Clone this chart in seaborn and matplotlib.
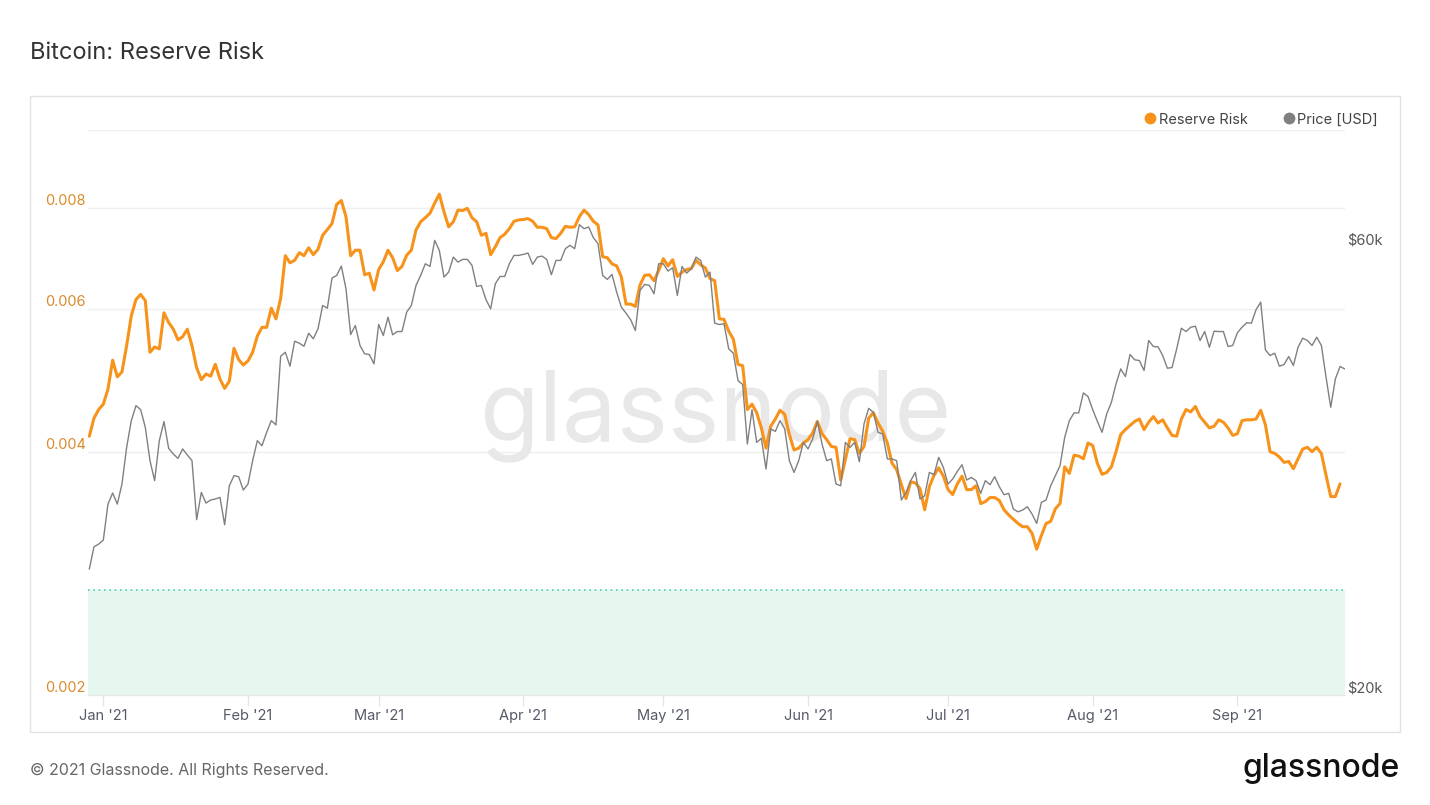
import numpy as np
import pandas as pd
import matplotlib
matplotlib.use("Agg")
import matplotlib.pyplot as plt
import matplotlib.dates as mdates
from matplotlib.ticker import NullLocator
from matplotlib.patches import Rectangle
from matplotlib.lines import Line2D
import seaborn as sns

# daily values, first day is 2020-12-29
reserve_risk = [
    0.00418, 0.00440, 0.00451, 0.00458, 0.00478, 0.00519, 0.00495, 0.00502, 0.00541, 0.00589,
    0.00617, 0.00626, 0.00615, 0.00531, 0.00539, 0.00536, 0.00594, 0.00578, 0.00567, 0.00550,
    0.00555, 0.00567, 0.00541, 0.00508, 0.00491, 0.00499, 0.00496, 0.00513, 0.00492, 0.00479,
    0.00489, 0.00537, 0.00520, 0.00512, 0.00518,
    0.00531, 0.00556, 0.00570, 0.00570, 0.00602, 0.00584, 0.00619, 0.00699, 0.00685, 0.00690,
    0.00705, 0.00699, 0.00715, 0.00701, 0.00712, 0.00741, 0.00753, 0.00766, 0.00809, 0.00818,
    0.00781, 0.00699, 0.00710, 0.00710, 0.00662, 0.00665, 0.00634, 0.00672, 0.00687, 0.00710,
    0.00695, 0.00670, 0.00678, 0.00700, 0.00710,
    0.00752, 0.00770, 0.00779, 0.00789, 0.00812, 0.00833, 0.00792, 0.00759, 0.00770, 0.00796,
    0.00795, 0.00800, 0.00779, 0.00770, 0.00741, 0.00745, 0.00701, 0.00717, 0.00736, 0.00743,
    0.00755, 0.00771, 0.00774, 0.00775, 0.00777, 0.00771, 0.00758, 0.00758, 0.00755, 0.00736,
    0.00734, 0.00745, 0.00760, 0.00758,
    0.00759, 0.00781, 0.00796, 0.00786, 0.00771, 0.00763, 0.00697, 0.00695, 0.00683, 0.00679,
    0.00658, 0.00609, 0.00609, 0.00605, 0.00643, 0.00661, 0.00662, 0.00651, 0.00670, 0.00693,
    0.00679, 0.00691, 0.00659, 0.00667, 0.00672, 0.00674, 0.00690, 0.00681, 0.00675, 0.00655,
    0.00651, 0.00584, 0.00583, 0.00564,
    0.00551, 0.00513, 0.00511, 0.00451, 0.00458, 0.00447, 0.00428, 0.00404, 0.00430, 0.00439,
    0.00450, 0.00445, 0.00420, 0.00402, 0.00404, 0.00410, 0.00414, 0.00422, 0.00436, 0.00421,
    0.00414, 0.00406, 0.00405, 0.00369, 0.00391, 0.00415, 0.00414, 0.00398, 0.00406, 0.00440,
    0.00447, 0.00434, 0.00424, 0.00410,
    0.00387, 0.00380, 0.00364, 0.00350, 0.00367, 0.00366, 0.00360, 0.00339, 0.00362, 0.00374,
    0.00382, 0.00373, 0.00359, 0.00354, 0.00365, 0.00373, 0.00359, 0.00359, 0.00363, 0.00345,
    0.00347, 0.00351, 0.00351, 0.00348, 0.00339, 0.00334, 0.00330, 0.00326, 0.00323, 0.00323,
    0.00317, 0.00303, 0.00315, 0.00326,
    0.00328, 0.00340, 0.00345, 0.00383, 0.00376, 0.00396, 0.00395, 0.00392, 0.00410, 0.00407,
    0.00387, 0.00375, 0.00377, 0.00383, 0.00400, 0.00420, 0.00426, 0.00431, 0.00436, 0.00439,
    0.00426, 0.00435, 0.00442, 0.00434, 0.00438, 0.00428, 0.00419, 0.00418, 0.00439, 0.00451,
    0.00448, 0.00455, 0.00442, 0.00435,
    0.00428, 0.00430, 0.00438, 0.00435, 0.00428, 0.00419, 0.00421, 0.00437, 0.00438, 0.00438,
    0.00439, 0.00450, 0.00432, 0.00400, 0.00398, 0.00394, 0.00388, 0.00389, 0.00381, 0.00392,
    0.00403, 0.00405, 0.00400, 0.00405, 0.00398, 0.00374, 0.00352, 0.00352, 0.00365,
]

price_usd = [
    27240, 28770, 28960, 29250, 31950, 32830, 31950, 33560, 36720, 39210,
    40680, 40280, 38570, 35540, 33840, 37330, 39120, 36630, 36130, 35740,
    36580, 36040, 35540, 30750, 32880, 32030, 32270, 32350, 32480, 30370,
    33420, 34260, 34170, 33070, 33560,
    35540, 37330, 36870, 38100, 39210, 38800, 45920, 46370, 44810, 47650,
    47410, 47060, 48590, 47930, 49120, 52010, 51670, 55620, 55990, 57290,
    54190, 48440, 49520, 47150, 46190, 46120, 45070, 49640, 48320, 50540,
    48400, 48790, 48790, 51160, 52010,
    54630, 55990, 57620, 57240, 61020, 59540, 55760, 56450, 58570, 57850,
    58240, 58240, 57390, 54500, 54630, 52750, 51590, 54860, 55850, 55850,
    57620, 58810, 58810, 58960, 59150, 57530, 58570, 58710, 58240, 56090,
    58090, 58090, 59790, 60280,
    59790, 63420, 62800, 63050, 61430, 60530, 55990, 55450, 56130, 53740,
    51800, 51040, 50220, 48910, 53970, 54770, 54630, 53530, 57620, 57620,
    56590, 57060, 53310, 57240, 56310, 56920, 58570, 58090, 55760, 56450,
    49800, 49640, 49730, 46770,
    46260, 43260, 42840, 37030, 40280, 37170, 37540, 34820, 38420, 38190,
    39210, 38420, 35540, 34530, 35540, 37170, 36580, 37490, 39140, 37030,
    35540, 35690, 33560, 33420, 37170, 36720, 37170, 35450, 38890, 40410,
    40020, 38100, 37950, 35690,
    35690, 35540, 32270, 32880, 33840, 34530, 32350, 32610, 34530, 34340,
    35830, 34960, 33560, 33980, 34620, 35190, 33890, 34110, 33840, 32800,
    33840, 33510, 34170, 33340, 32690, 32800, 31560, 31350, 31490, 31740,
    31180, 30470, 32080, 32270,
    33420, 34260, 35110, 37630, 39210, 39960, 39960, 41970, 41590, 40280,
    39140, 38100, 39860, 41010, 42910, 44520, 43690, 46120, 45520, 45440,
    44340, 47730, 47030, 47000, 46000, 44590, 44670, 46770, 49190, 48790,
    49310, 49430, 47730, 48790,
    46940, 48830, 48790, 48790, 47030, 47150, 48640, 49310, 49850, 49800,
    51470, 52440, 46650, 46000, 46260, 44810, 45000, 45890, 44890, 46940,
    48000, 47730, 47150, 48120, 47150, 43610, 40510, 43440, 44780, 44520,
]

first_day = "2020-12-29"
rr_ticks = [0.002, 0.004, 0.006, 0.008, 0.01]
rr_labels = ["0.002", "0.004", "0.006", "0.008", ""]
price_ticks = [20000, 60000]
price_labels = ["$20k", "$60k"]
buy_zone = 0.0027

rr = pd.DataFrame({"date": pd.date_range(first_day, periods=len(reserve_risk), freq="D"),
                   "value": reserve_risk})
px = pd.DataFrame({"date": pd.date_range(first_day, periods=len(price_usd), freq="D"),
                   "value": price_usd})

sns.set_style("white")
plt.rcParams["font.family"] = ["Inter", "DejaVu Sans"]

W, H = 1430, 805
fig = plt.figure(figsize=(W / 100, H / 100), dpi=100)
ax = fig.add_axes([88 / W, 1 - 695 / H, (1345 - 88) / W, (695 - 130) / H])
ax2 = ax.twinx()

orange = "#f7931a"
grey = "#808080"

# buy zone
ax.axhspan(0.002, buy_zone, color="#e6f7ef", lw=0, zorder=0.5)
ax.axhline(buy_zone, color="#3fd69a", lw=1.2, ls=(0, (1, 2.2)), zorder=0.6)

sns.lineplot(data=rr, x="date", y="value", ax=ax, color=orange, lw=2.2, legend=False, zorder=3)
sns.lineplot(data=px, x="date", y="value", ax=ax2, color=grey, lw=1.0, legend=False, zorder=3)

ax.set_yscale("log")
ax2.set_yscale("log")
ax.set_ylim(0.002, 0.01)
ax2.set_ylim(20000, 80000)
x0 = pd.Timestamp("2021-01-01")
ax.set_xlim(x0 - pd.Timedelta(hours=3.28 * 24), x0 + pd.Timedelta(hours=266.06 * 24))

ax.yaxis.set_minor_locator(NullLocator())
ax2.yaxis.set_minor_locator(NullLocator())
ax.set_yticks(rr_ticks, rr_labels, va="bottom")
ax2.set_yticks(price_ticks, price_labels, va="bottom")

ax.xaxis.set_major_locator(mdates.MonthLocator())
ax.xaxis.set_major_formatter(mdates.DateFormatter("%b '%y"))

ax.set_xlabel("")
ax.set_ylabel("")
ax2.set_ylabel("")

ax.grid(axis="y", color="#efefef", lw=1)
ax.grid(axis="x", visible=False)
ax2.grid(False)

ax.tick_params(axis="y", length=0, pad=1.5, labelsize=10.5, labelcolor="#d98b2b")
ax2.tick_params(axis="y", length=0, pad=1.5, labelsize=10.5, labelcolor="#555555")
ax.tick_params(axis="x", length=8, width=1, color="#e6e6e6", pad=2, labelsize=10.5,
               labelcolor="#555a66", bottom=True)

for a in (ax, ax2):
    for s in ("top", "left", "right"):
        a.spines[s].set_visible(False)
    a.spines["bottom"].set_color("#e8e8e8")

# watermark
ax.text(0.4988, 0.495, "glassnode", transform=ax.transAxes, ha="center", va="center",
        fontsize=70, color="#e8e8e8", zorder=1)

# legend
handles = [Line2D([], [], marker="o", ls="", color=orange, markersize=7.5),
           Line2D([], [], marker="o", ls="", color=grey, markersize=7.5)]
fig.legend(handles, ["Reserve Risk", "Price [USD]"], loc="center right",
           bbox_to_anchor=(1378 / W, 1 - 119.5 / H), ncol=2, frameon=False,
           handletextpad=0.1, columnspacing=2.3, fontsize=10.5, labelcolor="#444444",
           handlelength=1.0, borderaxespad=0, borderpad=0)

# outer frame
fig.patches.append(Rectangle((30 / W, 1 - 732 / H), (1400 - 30) / W, (732 - 96) / H,
                             transform=fig.transFigure, fill=False, ec="#e2e2e2", lw=1))

fig.text(30 / W, 1 - 53 / H, "Bitcoin: Reserve Risk", fontsize=17, color="#333333",
         ha="left", va="center")
fig.text(30 / W, 1 - 770 / H, "\u00a9 2021 Glassnode. All Rights Reserved.", fontsize=11.5,
         color="#666666", ha="left", va="center")
fig.text(1400 / W, 1 - 768 / H, "glassnode", fontsize=23, color="#111111",
         ha="right", va="center", fontweight="medium")

fig.savefig("out.png", dpi=100)
